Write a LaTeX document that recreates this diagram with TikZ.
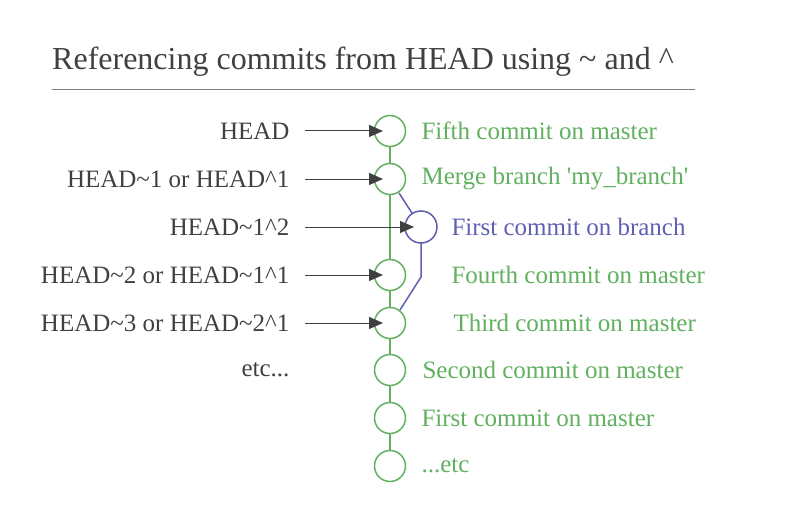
\documentclass[tikz,border=0pt]{standalone}
\usepackage{fontspec}
\setmainfont{Liberation Serif}
\usetikzlibrary{arrows.meta}
\definecolor{gr}{RGB}{96,176,96}
\definecolor{pu}{RGB}{96,96,176}
\definecolor{tx}{RGB}{64,64,64}
\begin{document}
\begin{tikzpicture}[x=1pt,y=-1pt,
  commitnode/.style={circle,draw=gr,line width=1.5pt,fill=white,minimum size=31pt,inner sep=0},
  branchnode/.style={circle,draw=pu,line width=1.5pt,fill=white,minimum size=32pt,inner sep=0},
  leftlabel/.style={anchor=east,text=tx,font=\fontsize{25}{27}\selectfont},
  rightlabel/.style={anchor=west,text=gr,font=\fontsize{25}{27}\selectfont},
  pointer/.style={draw=tx,line width=1pt,-{Triangle[length=14pt,width=12pt]}}]
\useasboundingbox (0,0) rectangle (795,508);
\node[anchor=base west,text=tx,font=\fontsize{32}{34}\selectfont,inner sep=0] (title) at (52,70) {Referencing commits from HEAD using \textasciitilde{} and \textasciicircum};
\draw[gray,line width=0.8pt] (52,89) coordinate (t1) -- (695,89) coordinate (t2);
\coordinate (gt) at (390,131); \coordinate (gb) at (390,466);
\draw[gr,line width=1.5pt] (gt) -- (gb);
\coordinate (p1) at (399,193); \coordinate (p2) at (421,277); \coordinate (p3) at (400,310);
\draw[pu,line width=1.5pt] (p1) -- (421,227) -- (p2) -- (p3);
\foreach \n/\y in {c1/131,c2/179,c4/275,c5/323,c6/370,c7/418,c8/466} \node[commitnode] (\n) at (390,\y) {};
\node[branchnode] (b) at (421,227) {};
\node[rightlabel] (r1) at (418,131) {Fifth commit on master};
\node[rightlabel] (r2) at (418,179) {Merge branch \textquotesingle my\_branch\textquotesingle};
\node[rightlabel,text=pu] (r3) at (448,227) {First commit on branch};
\node[rightlabel] (r4) at (448,275) {Fourth commit on master};
\node[rightlabel] (r5) at (450,323) {Third commit on master};
\node[rightlabel] (r6) at (419,370) {Second commit on master};
\node[rightlabel] (r7) at (418,418) {First commit on master};
\node[rightlabel] (r8) at (418,466) {...etc};
\node[leftlabel] (l1) at (293,131) {HEAD};
\node[leftlabel] (l2) at (293,179) {HEAD\textasciitilde1 or HEAD\textasciicircum1};
\node[leftlabel] (l3) at (293,227) {HEAD\textasciitilde1\textasciicircum2};
\node[leftlabel] (l4) at (293,275) {HEAD\textasciitilde2 or HEAD\textasciitilde1\textasciicircum1};
\node[leftlabel] (l5) at (293,323) {HEAD\textasciitilde3 or HEAD\textasciitilde2\textasciicircum1};
\node[leftlabel] (l6) at (293,370) {etc...};
\foreach \l/\c in {l1/c1,l2/c2,l4/c4,l5/c5} \draw[pointer] ([xshift=12pt]\l.east) -- ([xshift=-7pt]\c.center);
\draw[pointer] ([xshift=12pt]l3.east) -- ([xshift=-7pt]b.center);
\end{tikzpicture}
\end{document}
